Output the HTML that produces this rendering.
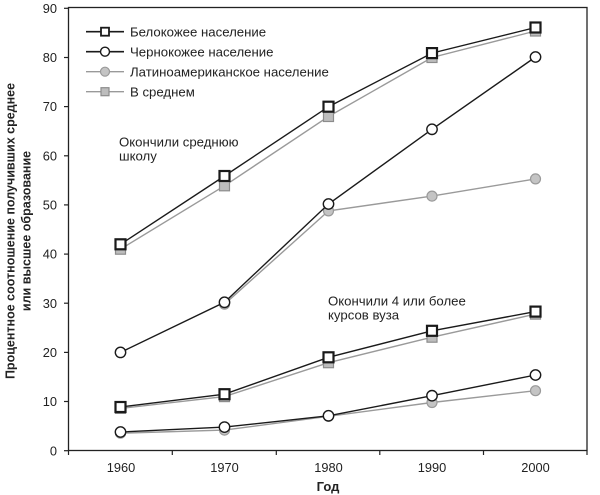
<!DOCTYPE html>
<html><head><meta charset="utf-8"><style>
html,body{margin:0;padding:0;background:#fff;}
svg{display:block;}
text{font-family:"Liberation Sans",Arial,sans-serif;fill:#222;}
</style></head><body>
<svg width="600" height="495" viewBox="0 0 600 495" xmlns="http://www.w3.org/2000/svg">
<rect x="0" y="0" width="600" height="495" fill="#fff"/>
<!-- plot frame -->
<rect x="68.5" y="7.5" width="518.5" height="443" fill="none" stroke="#222" stroke-width="1.3"/>
<!-- y ticks -->
<g stroke="#222" stroke-width="1.2">
<line x1="64" y1="450.7" x2="68.5" y2="450.7"/>
<line x1="64" y1="401.5" x2="68.5" y2="401.5"/>
<line x1="64" y1="352.4" x2="68.5" y2="352.4"/>
<line x1="64" y1="303.2" x2="68.5" y2="303.2"/>
<line x1="64" y1="254.1" x2="68.5" y2="254.1"/>
<line x1="64" y1="204.9" x2="68.5" y2="204.9"/>
<line x1="64" y1="155.8" x2="68.5" y2="155.8"/>
<line x1="64" y1="106.6" x2="68.5" y2="106.6"/>
<line x1="64" y1="57.5" x2="68.5" y2="57.5"/>
<line x1="64" y1="8.3" x2="68.5" y2="8.3"/>
<line x1="68.5" y1="450.7" x2="68.5" y2="455"/>
<line x1="172.3" y1="450.7" x2="172.3" y2="455"/>
<line x1="276.3" y1="450.7" x2="276.3" y2="455"/>
<line x1="379.8" y1="450.7" x2="379.8" y2="455"/>
<line x1="483.5" y1="450.7" x2="483.5" y2="455"/>
<line x1="587" y1="450.7" x2="587" y2="455"/>
</g>
<g font-size="12.8" text-anchor="end">
<text x="57" y="455.3">0</text>
<text x="57" y="406.1">10</text>
<text x="57" y="357">20</text>
<text x="57" y="307.8">30</text>
<text x="57" y="258.7">40</text>
<text x="57" y="209.5">50</text>
<text x="57" y="160.4">60</text>
<text x="57" y="111.2">70</text>
<text x="57" y="62.1">80</text>
<text x="57" y="12.9">90</text>
</g>
<g font-size="12.8" text-anchor="middle">
<text x="121" y="471.8">1960</text>
<text x="224.5" y="471.8">1970</text>
<text x="328.5" y="471.8">1980</text>
<text x="432" y="471.8">1990</text>
<text x="535.5" y="471.8">2000</text>
</g>
<text x="328" y="491" font-size="13" font-weight="bold" text-anchor="middle">Год</text>
<g font-size="12.5" font-weight="bold" text-anchor="middle">
<text transform="translate(14.5,231) rotate(-90)">Процентное соотношение получивших среднее</text>
<text transform="translate(30.5,231) rotate(-90)">или высшее образование</text>
</g>

<!-- annotations -->
<g font-size="13.2">
<text x="119" y="146.3">Окончили среднюю</text>
<text x="119" y="160.3">школу</text>
<text x="328" y="305.3">Окончили 4 или более</text>
<text x="328" y="319.3">курсов вуза</text>
</g>

<!-- gray series -->
<g fill="none" stroke="#9a9a9a" stroke-width="1.4">
<polyline points="120.5,249.2 224.5,185.8 328.5,116.5 432,57.5 535.5,31.0"/>
<polyline points="224.5,304.2 328.5,210.9 432,196.1 535.5,178.9"/>
<polyline points="120.5,408.4 224.5,396.6 328.5,362.7 432,337.2 535.5,314.1"/>
<polyline points="120.5,433.2 224.5,430.1 328.5,416.3 432,402.5 535.5,390.7"/>
</g>
<g fill="#bdbdbd" stroke="#8c8c8c" stroke-width="1.2">
<rect x="115.5" y="244.2" width="10" height="10"/>
<rect x="219.5" y="180.8" width="10" height="10"/>
<rect x="323.5" y="111.5" width="10" height="10"/>
<rect x="427" y="52.5" width="10" height="10"/>
<rect x="530.5" y="26" width="10" height="10"/>
<rect x="115.5" y="403.4" width="10" height="10"/>
<rect x="219.5" y="391.6" width="10" height="10"/>
<rect x="323.5" y="357.7" width="10" height="10"/>
<rect x="427" y="332.2" width="10" height="10"/>
<rect x="530.5" y="309.1" width="10" height="10"/>
</g>
<g fill="#c4c4c4" stroke="#9a9a9a" stroke-width="1.2">
<circle cx="224.5" cy="304.2" r="5"/>
<circle cx="328.5" cy="210.9" r="5"/>
<circle cx="432" cy="196.1" r="5"/>
<circle cx="535.5" cy="178.9" r="5"/>
<circle cx="120.5" cy="433.2" r="5"/>
<circle cx="224.5" cy="430.1" r="5"/>
<circle cx="328.5" cy="416.3" r="5"/>
<circle cx="432" cy="402.5" r="5"/>
<circle cx="535.5" cy="390.7" r="5"/>
</g>

<!-- black series -->
<g fill="none" stroke="#1a1a1a" stroke-width="1.4">
<polyline points="120.5,244.3 224.5,176.0 328.5,106.7 432,53.1 535.5,27.5"/>
<polyline points="120.5,352.4 224.5,302.3 328.5,204.0 432,129.3 535.5,57.0"/>
<polyline points="120.5,407.0 224.5,394.2 328.5,357.3 432,330.8 535.5,311.6"/>
<polyline points="120.5,432.0 224.5,427.1 328.5,415.8 432,395.7 535.5,375.0"/>
</g>
<g fill="#fff" stroke="#1a1a1a" stroke-width="2.2">
<rect x="115.5" y="239.3" width="10" height="10"/>
<rect x="219.5" y="171" width="10" height="10"/>
<rect x="323.5" y="101.7" width="10" height="10"/>
<rect x="427" y="48.1" width="10" height="10"/>
<rect x="530.5" y="22.5" width="10" height="10"/>
<rect x="115.5" y="402" width="10" height="10"/>
<rect x="219.5" y="389.2" width="10" height="10"/>
<rect x="323.5" y="352.3" width="10" height="10"/>
<rect x="427" y="325.8" width="10" height="10"/>
<rect x="530.5" y="306.6" width="10" height="10"/>
</g>
<g fill="#fff" stroke="#1a1a1a" stroke-width="1.4">
<circle cx="120.5" cy="352.4" r="5.2"/>
<circle cx="224.5" cy="302.3" r="5.2"/>
<circle cx="328.5" cy="204.0" r="5.2"/>
<circle cx="432" cy="129.3" r="5.2"/>
<circle cx="535.5" cy="57.0" r="5.2"/>
<circle cx="120.5" cy="432.0" r="5.2"/>
<circle cx="224.5" cy="427.1" r="5.2"/>
<circle cx="328.5" cy="415.8" r="5.2"/>
<circle cx="432" cy="395.7" r="5.2"/>
<circle cx="535.5" cy="375.0" r="5.2"/>
</g>

<!-- legend -->
<line x1="86" y1="31.7" x2="124" y2="31.7" stroke="#1a1a1a" stroke-width="1.6"/>
<rect x="101" y="27.7" width="8" height="8" fill="#fff" stroke="#1a1a1a" stroke-width="1.8"/>
<line x1="86" y1="51.7" x2="124" y2="51.7" stroke="#1a1a1a" stroke-width="1.6"/>
<circle cx="105" cy="51.7" r="4.5" fill="#fff" stroke="#1a1a1a" stroke-width="1.4"/>
<line x1="86" y1="71.7" x2="124" y2="71.7" stroke="#9a9a9a" stroke-width="1.4"/>
<circle cx="105" cy="71.7" r="4.5" fill="#c4c4c4" stroke="#9a9a9a" stroke-width="1.2"/>
<line x1="86" y1="91.7" x2="124" y2="91.7" stroke="#9a9a9a" stroke-width="1.4"/>
<rect x="101" y="87.7" width="8" height="8" fill="#bdbdbd" stroke="#8c8c8c" stroke-width="1.2"/>
<g font-size="13.2">
<text x="130" y="36.3">Белокожее население</text>
<text x="130" y="56.3">Чернокожее население</text>
<text x="130" y="76.3">Латиноамериканское население</text>
<text x="130" y="96.3">В среднем</text>
</g>
</svg>
</body></html>
